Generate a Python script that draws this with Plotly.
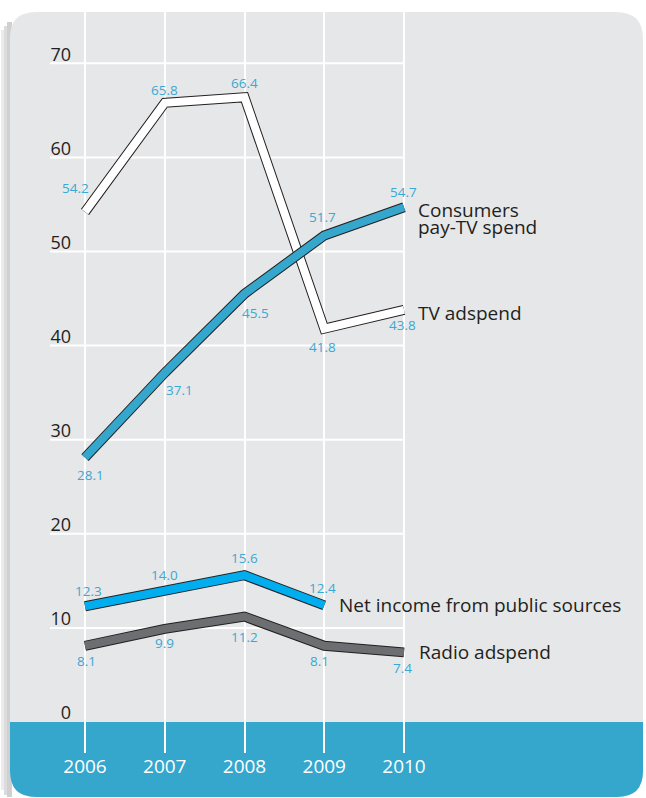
import plotly.graph_objects as go

# ---------------- data ----------------
years = [2006, 2007, 2008, 2009, 2010]
year_labels = ["2006", "2007", "2008", "2009", "2010"]
tv_adspend = [54.2, 65.8, 66.4, 41.8, 43.8]
pay_tv = [28.1, 37.1, 45.5, 51.7, 54.7]
public_income = [12.3, 14.0, 15.6, 12.4]
radio_adspend = [8.1, 9.9, 11.2, 8.1, 7.4]
y_ticks = [0, 10, 20, 30, 40, 50, 60, 70]
series_names = ["Consumers<br>pay-TV spend", "TV adspend",
                "Net income from public sources", "Radio adspend"]

# ---------------- style / layout ----------------
W, H = 646, 798
FONT = "Open Sans"
DARK = "#231f20"
LABEL_BLUE = "#3aa8d4"
BAND_BLUE = "#35a6cc"
PANEL = "#e6e7e8"

PLOT_L, PLOT_R = 74, 646      # px
PLOT_T, PLOT_B = 12, 753      # px
X0_PX, X_PER_YR = 85, 79.75   # 2006 position and px/year
Y0_PX, Y_PER_UNIT = 722, 9.41  # value 0 position and px/unit
NAME_LEADING = 17             # px between lines of a series name

x_range = [years[0] - (X0_PX - PLOT_L) / X_PER_YR,
           years[0] + (PLOT_R - X0_PX) / X_PER_YR]
y_range = [-(PLOT_B - Y0_PX) / Y_PER_UNIT, (Y0_PX - PLOT_T) / Y_PER_UNIT]


def px(xp):
    return xp / W


def py(yp):
    return 1 - yp / H


fig = go.Figure()

series = [
    (tv_adspend, "#ffffff"),
    (pay_tv, BAND_BLUE),
    (public_income, "#00aeef"),
    (radio_adspend, "#6d6e71"),
]
for vals, col in series:
    xs = years[:len(vals)]
    fig.add_trace(go.Scatter(x=xs, y=vals, mode="lines",
                             line=dict(color=DARK, width=10),
                             hoverinfo="skip", showlegend=False))
    fig.add_trace(go.Scatter(x=xs, y=vals, mode="lines",
                             line=dict(color=col, width=8),
                             hoverinfo="skip", showlegend=False))

# value label offsets (px): (dx, dy) with dy positive = down
tv_off = [(-10, -24), (0, -13), (0, -14), (-2, 18), (-2, 15)]
pay_off = [(5, 17), (15, 17), (11, 19), (-2, -19), (-1, -15)]
pub_off = [(3, -15), (0, -15), (0, -17), (-2, -17)]
radio_off = [(1, 15), (0, 14), (0, 20), (-5, 15), (-2, 16)]

annotations = []
for vals, offs in [(tv_adspend, tv_off), (pay_tv, pay_off),
                   (public_income, pub_off), (radio_adspend, radio_off)]:
    for xv, yv, (dx, dy) in zip(years, vals, offs):
        annotations.append(dict(
            x=xv, y=yv, xref="x", yref="y", text=f"{yv:.1f}",
            showarrow=False, xshift=dx, yshift=-dy,
            font=dict(family=FONT, size=13.5, color=LABEL_BLUE)))

# series name labels, anchored at each series' last point
name_anchor = [(pay_tv, 12, 3), (tv_adspend, 12, 3),
               (public_income, 13, 0), (radio_adspend, 13, 0)]
for name, (vals, dx, dy) in zip(series_names, name_anchor):
    for i, line_txt in enumerate(name.split("<br>")):
        annotations.append(dict(
            x=years[len(vals) - 1], y=vals[-1], xref="x", yref="y",
            text=line_txt, showarrow=False, xanchor="left", yanchor="middle",
            align="left", xshift=dx, yshift=-(dy + i * NAME_LEADING),
            font=dict(family=FONT, size=19, color=DARK)))

shapes = []
# left shadow
shapes.append(dict(type="rect", xref="paper", yref="paper", layer="below",
                   x0=px(1), x1=px(12), y0=py(790), y1=py(30),
                   fillcolor="#ebebec", line=dict(width=0)))
shapes.append(dict(type="rect", xref="paper", yref="paper", layer="below",
                   x0=px(4), x1=px(12), y0=py(795), y1=py(26),
                   fillcolor="#dcdcdd", line=dict(width=0)))
shapes.append(dict(type="rect", xref="paper", yref="paper", layer="below",
                   x0=px(7), x1=px(12), y0=py(797), y1=py(22),
                   fillcolor="#cfd0d1", line=dict(width=0)))


def rounded_path(x0, y0, x1, y1, r_tl, r_tr, r_br, r_bl):
    # coordinates in px -> paper
    p = []
    p.append(f"M {px(x0 + r_tl)} {py(y0)}")
    p.append(f"L {px(x1 - r_tr)} {py(y0)}")
    p.append(f"Q {px(x1)} {py(y0)} {px(x1)} {py(y0 + r_tr)}")
    p.append(f"L {px(x1)} {py(y1 - r_br)}")
    p.append(f"Q {px(x1)} {py(y1)} {px(x1 - r_br)} {py(y1)}")
    p.append(f"L {px(x0 + r_bl)} {py(y1)}")
    p.append(f"Q {px(x0)} {py(y1)} {px(x0)} {py(y1 - r_bl)}")
    p.append(f"L {px(x0)} {py(y0 + r_tl)}")
    p.append(f"Q {px(x0)} {py(y0)} {px(x0 + r_tl)} {py(y0)}")
    p.append("Z")
    return " ".join(p)


shapes.append(dict(type="path", xref="paper", yref="paper", layer="below",
                   path=rounded_path(10, 12, 643, 797, 26, 27, 26, 26),
                   fillcolor=PANEL, line=dict(width=0)))
shapes.append(dict(type="path", xref="paper", yref="paper", layer="below",
                   path=rounded_path(10, 722, 643, 797, 0, 0, 26, 26),
                   fillcolor=BAND_BLUE, line=dict(width=0)))
# horizontal grid lines for y ticks (span 50px .. last year)
for t in y_ticks:
    if t == 0:
        continue
    shapes.append(dict(type="line", xref="paper", yref="y", layer="below",
                       x0=px(50), x1=px(X0_PX + (years[-1] - years[0]) * X_PER_YR),
                       y0=t, y1=t, line=dict(color="#ffffff", width=2)))

fig.update_layout(
    width=W, height=H,
    margin=dict(l=0, r=0, t=0, b=0),
    paper_bgcolor="#ffffff",
    plot_bgcolor="rgba(0,0,0,0)",
    showlegend=False,
    shapes=shapes,
    annotations=annotations,
    xaxis=dict(domain=[px(PLOT_L), 1], range=x_range,
               tickvals=years, ticktext=year_labels, automargin=False,
               showgrid=True, gridcolor="#ffffff", gridwidth=2,
               zeroline=False, showline=False, ticks="",
               ticklabelstandoff=0,
               tickfont=dict(family=FONT, size=19, color="#ffffff")),
    yaxis=dict(domain=[py(PLOT_B), py(PLOT_T)], range=y_range,
               tickvals=y_ticks, ticktext=[str(t) for t in y_ticks],
               automargin=False,
               showgrid=False, zeroline=False, showline=False, ticks="",
               ticklabelstandoff=2, ticklabelshift=-9,
               tickfont=dict(family=FONT, size=18, color=DARK)),
)

fig.write_html(
    "out.html",
    config={"displayModeBar": False},
    post_script="document.body.style.margin='0';document.body.style.overflow='hidden';",
)
